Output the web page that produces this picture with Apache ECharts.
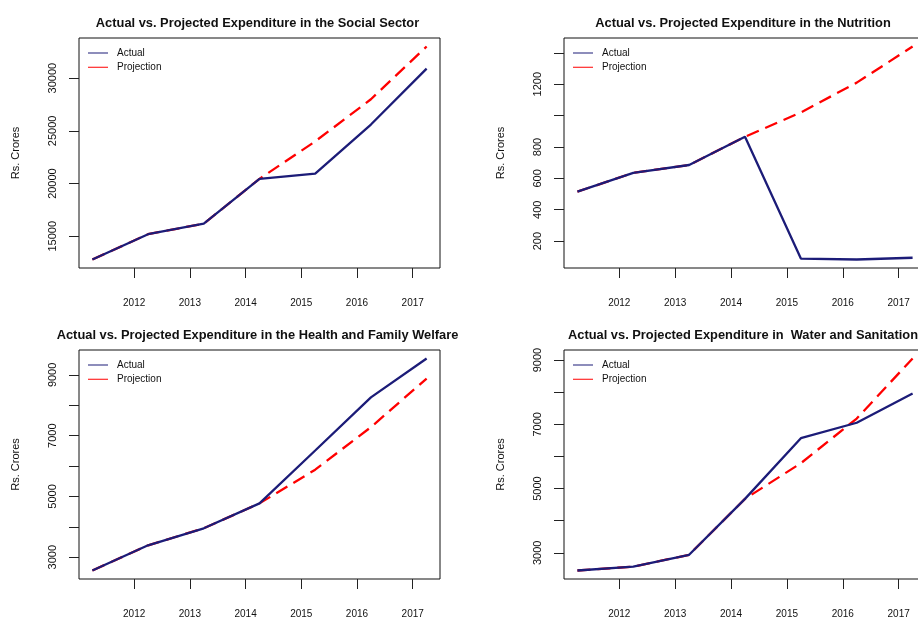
<!DOCTYPE html>
<html>
<head>
<meta charset="utf-8">
<script src="https://cdn.jsdelivr.net/npm/echarts@6/dist/echarts.min.js"></script>
<style>
  html, body { margin: 0; padding: 0; background: #fff; }
  #chart { width: 918px; height: 619px; }
</style>
</head>
<body>
<div id="chart"></div>
<script>
// Fiscal periods (plotted a quarter into each year) and axis tick years
const periods = [2011.25, 2012.25, 2013.25, 2014.25, 2015.25, 2016.25, 2017.25];
const yearTicks = [2012, 2013, 2014, 2015, 2016, 2017];

// Expenditure, Rs. Crores
const socialActual      = [12800, 15200, 16200, 20450, 20950, 25600, 30900];
const socialProjection  = [12800, 15200, 16200, 20450, 24000, 28000, 33000];
const nutritionActual     = [515, 635, 685, 865, 89, 83, 94];
const nutritionProjection = [515, 635, 685, 865, 1020, 1210, 1440];
const healthActual      = [2560, 3390, 3950, 4770, 6510, 8260, 9540];
const healthProjection  = [2560, 3390, 3950, 4770, 5880, 7280, 8880];
const waterActual       = [2450, 2570, 2940, 4680, 6570, 7050, 7960];
const waterProjection   = [2450, 2570, 2940, 4680, 5790, 7180, 9050];

// Y tick marks and the subset of them that carry labels
const socialTicks  = [15000, 20000, 25000, 30000];
const socialLabels = [15000, 20000, 25000, 30000];
const nutritionTicks  = [200, 400, 600, 800, 1000, 1200, 1400];
const nutritionLabels = [200, 400, 600, 800, 1200];
const healthTicks  = [3000, 4000, 5000, 6000, 7000, 8000, 9000];
const healthLabels = [3000, 5000, 7000, 9000];
const waterTicks  = [3000, 4000, 5000, 6000, 7000, 8000, 9000];
const waterLabels = [3000, 5000, 7000, 9000];

const titles = [
  'Actual vs. Projected Expenditure in the Social Sector',
  'Actual vs. Projected Expenditure in the Nutrition',
  'Actual vs. Projected Expenditure in the Health and Family Welfare',
  'Actual vs. Projected Expenditure in  Water and Sanitation'
];

const panels = [
  { actual: socialActual,    projection: socialProjection,    ticks: socialTicks,    labels: socialLabels },
  { actual: nutritionActual, projection: nutritionProjection, ticks: nutritionTicks, labels: nutritionLabels },
  { actual: healthActual,    projection: healthProjection,    ticks: healthTicks,    labels: healthLabels },
  { actual: waterActual,     projection: waterProjection,     ticks: waterTicks,     labels: waterLabels }
];

// Plot boxes (the right column runs past the page edge)
const boxes = [
  { left: 79,  top: 38,  width: 361, height: 230 },
  { left: 564, top: 38,  width: 362, height: 230 },
  { left: 79,  top: 350, width: 361, height: 229 },
  { left: 564, top: 350, width: 362, height: 229 }
];

const FONT = '"Liberation Sans", Arial, Helvetica, sans-serif';
const NAVY = '#1c1c78';
const RED = '#ff0000';

// Extend a data range by 4% at each end
function padRange(vals) {
  const lo = Math.min(...vals), hi = Math.max(...vals), r = hi - lo;
  return [lo - 0.04 * r, hi + 0.04 * r];
}
const pairs = (ys) => periods.map((p, i) => [p, ys[i]]);
const xr = padRange(periods);
const legendIcon = 'path://M0,0H20V1H0Z M24,0L24,1';

const option = {
  animation: false,
  backgroundColor: '#fff',
  textStyle: { fontFamily: FONT },
  grid: boxes.map(b => ({
    ...b, show: true, borderColor: '#111', borderWidth: 1, backgroundColor: 'transparent',
    containLabel: false, outerBoundsMode: 'none'
  })),
  xAxis: panels.map((p, i) => ({
    type: 'value', gridIndex: i, min: xr[0], max: xr[1],
    axisLine: { show: false, onZero: false },
    splitLine: { show: false },
    axisTick: { show: true, length: 10, customValues: yearTicks, lineStyle: { color: '#222', width: 1 } },
    axisLabel: { customValues: yearTicks, margin: 30, fontSize: 10, fontFamily: FONT, color: '#111', formatter: v => String(v) }
  })),
  yAxis: panels.map((p, i) => {
    const yr = padRange(p.actual.concat(p.projection));
    return {
      type: 'value', gridIndex: i, min: yr[0], max: yr[1],
      axisLine: { show: false, onZero: false },
      splitLine: { show: false },
      axisTick: { show: true, length: 10, customValues: p.ticks, lineStyle: { color: '#222', width: 1 } },
      axisLabel: { customValues: p.labels, rotate: 90, margin: 21, fontSize: 11, fontFamily: FONT, color: '#111', formatter: v => String(v) },
      name: 'Rs. Crores', nameLocation: 'middle', nameGap: 58,
      nameTextStyle: { fontSize: 11, fontFamily: FONT, color: '#111' }
    };
  }),
  legend: boxes.map(b => ({
    orient: 'vertical', left: b.left + 9, top: b.top + 9, padding: 0,
    itemWidth: 24, itemHeight: 1, itemGap: 2.3,
    icon: legendIcon,
    textStyle: { fontSize: 10, fontFamily: FONT, color: '#111', lineHeight: 12 },
    data: ['Actual', 'Projection'],
    selectedMode: false
  })),
  series: panels.flatMap((p, i) => [
    {
      name: 'Projection', type: 'line', xAxisIndex: i, yAxisIndex: i,
      data: pairs(p.projection), symbol: 'none', z: 2,
      itemStyle: { color: RED },
      lineStyle: { color: RED, width: 2.3, type: [13, 7] }
    },
    {
      name: 'Actual', type: 'line', xAxisIndex: i, yAxisIndex: i,
      data: pairs(p.actual), symbol: 'none', z: 3,
      itemStyle: { color: NAVY },
      lineStyle: { color: NAVY, width: 2.3 }
    }
  ]),
  graphic: boxes.map((b, i) => ({
    type: 'text',
    x: b.left + b.width / 2 - 2,
    y: b.top - 15,
    style: {
      text: titles[i], textAlign: 'center', textVerticalAlign: 'middle',
      fontSize: 12.85, fontWeight: 'bold', fontFamily: FONT, fill: '#111'
    }
  }))
};

const chart = echarts.init(document.getElementById('chart'), null, { renderer: 'canvas' });
chart.setOption(option);
</script>
</body>
</html>
